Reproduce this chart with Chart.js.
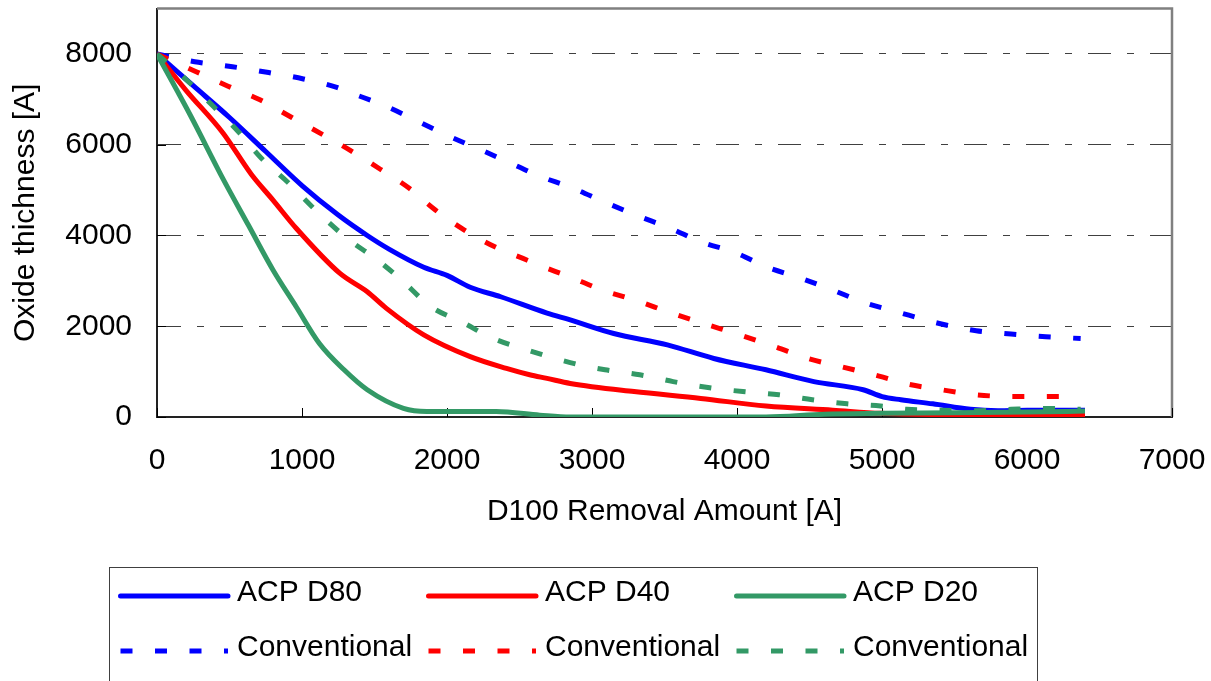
<!DOCTYPE html>
<html>
<head>
<meta charset="utf-8">
<script src="https://cdn.jsdelivr.net/npm/chart.js@4"></script>
<style>
  html, body { margin: 0; padding: 0; background: #fff; }
</style>
</head>
<body>
<canvas id="chart" width="1211" height="681"></canvas>
<script>
// Axis ticks
const xTicks = [0, 1000, 2000, 3000, 4000, 5000, 6000, 7000];
const yTicks = [0, 2000, 4000, 6000, 8000];

const seriesLabels = ['ACP D80', 'ACP D40', 'ACP D20', 'Conventional', 'Conventional', 'Conventional'];

// ACP D80 (blue solid)
const acpD80X = [0, 250, 500, 750, 1000, 1250, 1450, 1600, 1840, 2000, 2160, 2370, 2690, 2850, 3150, 3520, 3840, 4200, 4530, 4870, 5000, 5130, 5350, 5610, 5800, 6000, 6400];
const acpD80Y = [8000, 7300, 6600, 5850, 5100, 4450, 4000, 3700, 3300, 3120, 2860, 2650, 2290, 2140, 1840, 1590, 1290, 1040, 780, 600, 450, 380, 290, 170, 140, 150, 150];

// ACP D40 (red solid)
const acpD40X = [0, 200, 455, 650, 800, 960, 1260, 1450, 1580, 1840, 2160, 2410, 2570, 2690, 2850, 3290, 3750, 4200, 4660, 4990, 5500, 6000, 6400];
const acpD40Y = [8000, 7200, 6260, 5350, 4780, 4160, 3170, 2760, 2400, 1810, 1330, 1070, 930, 850, 740, 560, 410, 240, 150, 80, 50, 40, 40];

// ACP D20 (green solid)
const acpD20X = [0, 230, 460, 630, 800, 960, 1120, 1290, 1450, 1700, 1860, 2340, 2640, 2850, 4200, 4600, 5000, 6000, 6400];
const acpD20Y = [8000, 6650, 5220, 4230, 3240, 2430, 1620, 1040, 600, 190, 120, 120, 40, 0, 0, 60, 80, 110, 130];

// Conventional (blue dashed)
const convBlueX = [0, 260, 520, 770, 1010, 1240, 1330, 1560, 1790, 2020, 2260, 2490, 2620, 2870, 3080, 3310, 3540, 3750, 3990, 4200, 4430, 4650, 4880, 5100, 5410, 5650, 5890, 6130, 6370];
const convBlueY = [8000, 7830, 7720, 7590, 7450, 7265, 7150, 6875, 6530, 6180, 5850, 5520, 5330, 5040, 4745, 4440, 4160, 3860, 3620, 3310, 3070, 2810, 2520, 2320, 2050, 1900, 1830, 1770, 1730];

// Conventional (red dashed)
const convRedX = [0, 270, 490, 710, 930, 1150, 1330, 1540, 1740, 1920, 2120, 2330, 2550, 2630, 2830, 3070, 3310, 3540, 3780, 4020, 4260, 4490, 4730, 4980, 5170, 5410, 5650, 5890, 6130, 6370];
const convRedY = [8000, 7610, 7290, 6990, 6600, 6210, 5880, 5460, 5040, 4560, 4120, 3750, 3460, 3350, 3110, 2800, 2560, 2300, 2050, 1810, 1550, 1290, 1100, 900, 730, 600, 490, 450, 450, 450];

// Conventional (green dashed)
const convGreenX = [0, 230, 390, 560, 720, 910, 1080, 1310, 1520, 1700, 1880, 2110, 2320, 2600, 2850, 3090, 3330, 3560, 3800, 4040, 4290, 4520, 4760, 4990, 5170, 5410, 5650, 5890, 6130, 6370];
const convGreenY = [8000, 7350, 6840, 6290, 5700, 5150, 4600, 3940, 3460, 2980, 2450, 2080, 1730, 1430, 1200, 1040, 930, 780, 650, 560, 490, 380, 290, 240, 170, 150, 140, 170, 190, 170];

const BLUE = '#0000ff', RED = '#ff0000', GREEN = '#339966';
const DASH = [12, 22.5];

function toPoints(xs, ys) {
    return xs.map((x, i) => ({x: x, y: ys[i]}));
}

function makeSeries(label, xs, ys, color, dashed, idx) {
    return {
        label: label,
        data: toPoints(xs, ys),
        borderColor: color,
        borderWidth: 5,
        borderDash: dashed ? DASH : undefined,
        borderCapStyle: 'butt',
        borderJoinStyle: 'round',
        pointRadius: 0,
        fill: false,
        cubicInterpolationMode: 'monotone',
        order: 6 - idx   // later series drawn on top, like the original
    };
}

// top/right grey frame and small inward tick marks
const framePlugin = {
    id: 'frame',
    beforeDatasetsDraw(chart) {
        const {ctx, chartArea: a} = chart;
        const x = chart.scales.x, y = chart.scales.y;
        ctx.save();
        ctx.strokeStyle = '#808080';
        ctx.lineWidth = 2.5;
        ctx.beginPath();
        ctx.moveTo(a.left, a.top);
        ctx.lineTo(a.right, a.top);
        ctx.lineTo(a.right, a.bottom);
        ctx.stroke();

        ctx.strokeStyle = '#000';
        ctx.lineWidth = 1;
        ctx.beginPath();
        xTicks.forEach(v => {
            const px = Math.round(x.getPixelForValue(v)) + 0.5;
            ctx.moveTo(px, a.bottom);
            ctx.lineTo(px, a.bottom - 9);
        });
        yTicks.forEach(v => {
            const py = Math.round(y.getPixelForValue(v)) + 0.5;
            ctx.moveTo(a.left, py);
            ctx.lineTo(a.left + 9, py);
        });
        ctx.stroke();
        ctx.restore();
    }
};

// boxed legend below the chart, 3 columns x 2 rows
const legendPlugin = {
    id: 'boxLegend',
    afterDraw(chart) {
        const ctx = chart.ctx;
        ctx.save();
        ctx.strokeStyle = '#404040';
        ctx.lineWidth = 1;
        ctx.strokeRect(109.5, 567.5, 928, 200);
        ctx.font = '30px "Liberation Sans", Arial, sans-serif';
        ctx.textBaseline = 'middle';
        ctx.textAlign = 'left';
        chart.data.datasets.forEach((ds, i) => {
            const col = i % 3, row = Math.floor(i / 3);
            const x0 = 118 + col * 308;
            const y0 = 596 + row * 55;
            ctx.strokeStyle = ds.borderColor;
            ctx.lineWidth = 5;
            ctx.setLineDash(ds.borderDash || []);
            ctx.lineCap = ds.borderDash ? 'butt' : 'round';
            ctx.beginPath();
            ctx.moveTo(x0 + 2.5, y0);
            ctx.lineTo(x0 + 110, y0);
            ctx.stroke();
            ctx.setLineDash([]);
            ctx.fillStyle = '#000';
            ctx.fillText(ds.label, x0 + 119, y0 - 3);
        });
        ctx.restore();
    }
};

Chart.defaults.font.family = '"Liberation Sans", Arial, sans-serif';
Chart.defaults.font.size = 30;
Chart.defaults.color = '#000';

new Chart(document.getElementById('chart'), {
    type: 'line',
    data: {
        datasets: [
            makeSeries(seriesLabels[0], acpD80X, acpD80Y, BLUE, false, 0),
            makeSeries(seriesLabels[1], acpD40X, acpD40Y, RED, false, 1),
            makeSeries(seriesLabels[2], acpD20X, acpD20Y, GREEN, false, 2),
            makeSeries(seriesLabels[3], convBlueX, convBlueY, BLUE, true, 3),
            makeSeries(seriesLabels[4], convRedX, convRedY, RED, true, 4),
            makeSeries(seriesLabels[5], convGreenX, convGreenY, GREEN, true, 5)
        ]
    },
    options: {
        responsive: false,
        animation: false,
        layout: {
            padding: {left: 0, top: 8.6, right: 39, bottom: 114}
        },
        plugins: {
            legend: {display: false},
            tooltip: {enabled: false}
        },
        scales: {
            x: {
                type: 'linear',
                min: 0,
                max: 7000,
                afterBuildTicks: scale => { scale.ticks = xTicks.map(v => ({value: v})); },
                afterFit: scale => {
                    scale.height = 150;
                    scale.paddingLeft = 0;
                    scale.paddingRight = 0;
                },
                ticks: {
                    padding: 26,
                    maxRotation: 0,
                    autoSkip: false,
                    callback: v => String(v)
                },
                grid: {display: false, drawTicks: false},
                border: {display: true, color: '#222', width: 2},
                title: {
                    display: true,
                    text: 'D100 Removal Amount [A]',
                    font: {size: 30},
                    padding: {top: 0, bottom: 37.5}
                }
            },
            y: {
                min: 0,
                max: 9000,
                afterBuildTicks: scale => { scale.ticks = yTicks.map(v => ({value: v})); },
                afterFit: scale => {
                    scale.width = 157;
                    scale.paddingTop = 0;
                    scale.paddingBottom = 0;
                },
                ticks: {
                    padding: 25,
                    callback: v => String(v)
                },
                grid: {
                    drawTicks: false,
                    lineWidth: 1,
                    color: ctx => ctx.tick && ctx.tick.value === 0 ? 'rgba(0,0,0,0)' : '#404040'
                },
                border: {display: true, color: '#222', width: 2, dash: [23, 16, 7, 16]},
                title: {
                    display: true,
                    text: 'Oxide thichness [A]',
                    font: {size: 30},
                    padding: {top: 8, bottom: 0}
                }
            }
        }
    },
    plugins: [framePlugin, legendPlugin]
});
</script>
</body>
</html>
